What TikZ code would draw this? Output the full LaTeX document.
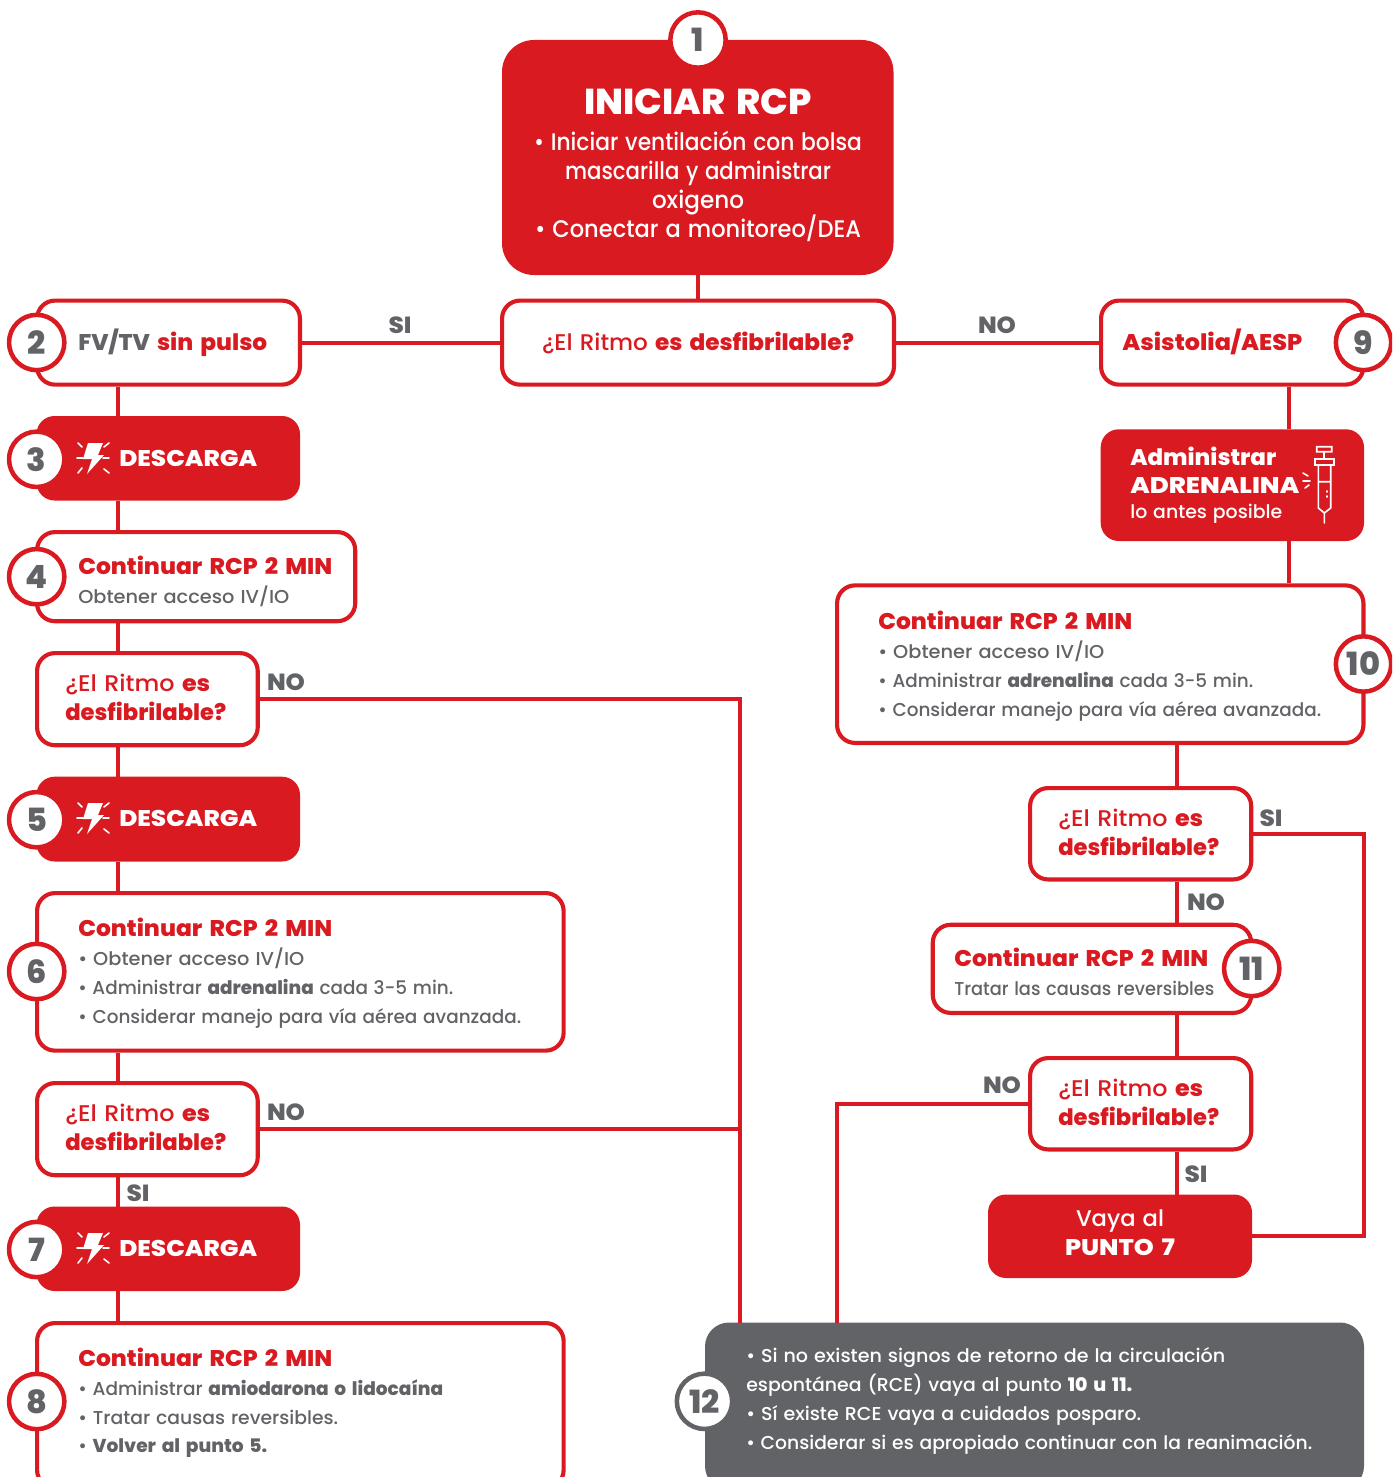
\documentclass[tikz,border=0pt]{standalone}
\usepackage{graphicx}
\usepackage{fontspec}
\setmainfont{Poppins Medium}[BoldFont={Poppins ExtraBold},WordSpace=1.2,BoldFeatures={WordSpace=1.6}]
\definecolor{rojo}{HTML}{DA1A21}
\definecolor{gris}{HTML}{626366}
\newcommand{\fs}[1]{\fontsize{#1}{#1}\selectfont}
\newcommand{\W}[2]{\resizebox{\dimexpr#1pt*3/4\relax}{\height}{#2}}
\tikzset{
 x=0.75pt,y=-0.75pt,
 line/.style={draw=rojo,line width=3.1pt,line join=miter},
 outbox/.style={draw=rojo,line width=3.1pt,fill=white,rounded corners=13.5pt,inner sep=0pt,anchor=north west},
 fillbox/.style={fill=rojo,rounded corners=13.5pt,inner sep=0pt,outer sep=0pt,anchor=north west},
 ring/.style={circle,draw=rojo,line width=3.4pt,fill=white,minimum size=41.5pt,inner sep=0pt,text=gris,font=\fs{24}\bfseries},
 gring/.style={ring,draw=gris},
 lab/.style={text=gris,font=\fs{17.5}\bfseries,inner sep=0pt},
 tl/.style={anchor=base west,inner sep=0pt},
 tc/.style={anchor=base,inner sep=0pt},
 rhead/.style={tl,text=rojo,font=\fs{17}\bfseries},
 gbody/.style={tl,text=gris,font=\fs{14}},
 qt/.style={tl,text=rojo,font=\fs{17}},
 whl/.style={tl,text=white,font=\fs{17}\bfseries},
 icon/.style={draw=white,line width=1.2pt,line cap=round},
}
% outlined box given by its outer edges in pixels: name, left, top, right, bottom
\newcommand{\obox}[5]{%
 \pgfmathsetmacro\myw{(#4-#2-4.13)*0.75}\pgfmathsetmacro\myh{(#5-#3-4.13)*0.75}%
 \node[outbox,minimum width=\myw pt,minimum height=\myh pt] (#1) at (#2,#3) {};}
\newcommand{\rbox}[6][]{%
 \pgfmathsetmacro\myw{(#5-#3)*0.75}\pgfmathsetmacro\myh{(#6-#4)*0.75}%
 \node[fillbox,minimum width=\myw pt,minimum height=\myh pt,#1] (#2) at (#3,#4) {};}
\newcommand{\bolt}[2]{%
 \begin{scope}[shift={(0,#1)}]
  \fill[white] (88,443)--(103,443)--(98,455)--(104,455)--(87,474)--(92,459)--(83,459)--cycle;
  \draw[icon] (78,443)--(82,447) (109,443)--(104,447) (77,458)--(83,458) (103,458)--(109,458) (78,473)--(82,468) (109,473)--(104,469);
 \end{scope}
 \node[whl] (#2) at (119,466+#1) {\W{138}{DESCARGA}};}
\begin{document}
\begin{tikzpicture}
\useasboundingbox (0,0) rectangle (1392,1477);
\clip (0,0) rectangle (1392,1477);
% boxes
\rbox[rounded corners=24pt]{b1}{502}{40}{893.5}{275}
\obox{q0}{500}{298.5}{896}{386.7}
\obox{b2}{35}{298.5}{302}{386.7}
\obox{b9}{1099}{298.5}{1365.5}{386.7}
\rbox{b3}{36.5}{416}{300}{500.5}
\obox{b4}{35}{530}{357.3}{623.3}
\obox{q1}{35}{651}{259.8}{747.3}
\rbox{b5}{36.5}{776.7}{300}{861.5}
\obox{b6}{35}{891}{565.7}{1052.7}
\obox{q2}{35}{1081}{259.8}{1177.3}
\rbox{b7}{36.5}{1206.5}{300}{1291}
\obox{b8}{35}{1321}{565.7}{1490}
\rbox{ba}{1100.7}{429.3}{1364}{541}
\obox{b10}{835}{583.3}{1365.5}{745}
\obox{q3}{1028}{786}{1253.3}{881.5}
\obox{b11}{930.7}{922.7}{1253.3}{1015}
\obox{q4}{1028}{1056}{1253.3}{1151.5}
\rbox{bv}{988}{1194.5}{1252}{1278}
\rbox[fill=gris,rounded corners=18pt]{b12}{705}{1322.5}{1364}{1490}
% trunk coordinates
\coordinate (tl) at (118,0);
\coordinate (tm) at (698,0);
\coordinate (ta) at (1289.3,0);
\coordinate (tb) at (1176.7,0);
\coordinate (jl) at (740.4,0);
\coordinate (jr) at (1364,0);
\coordinate (jn) at (836.7,0);
% connectors
\draw[line] (b1.south -| tm) -- (q0.north -| tm);
\draw[line] (q0.west) -- (b2.east);
\draw[line] (q0.east) -- (b9.west);
\draw[line] (b2.south -| tl) -- (b3.north -| tl);
\draw[line] (b3.south -| tl) -- (b4.north -| tl);
\draw[line] (b4.south -| tl) -- (q1.north -| tl);
\draw[line] (q1.south -| tl) -- (b5.north -| tl);
\draw[line] (b5.south -| tl) -- (b6.north -| tl);
\draw[line] (b6.south -| tl) -- (q2.north -| tl);
\draw[line] (q2.south -| tl) -- (b7.north -| tl);
\draw[line] (b7.south -| tl) -- (b8.north -| tl);
\draw[line] (q1.east) -| (b12.north -| jl);
\draw[line] (q2.east) -- (q2.east -| jl);
\draw[line] (b9.south -| ta) -- (ba.north -| ta);
\draw[line] (ba.south -| ta) -- (b10.north -| ta);
\draw[line] (b10.south -| tb) -- (q3.north -| tb);
\draw[line] (q3.south -| tb) -- (b11.north -| tb);
\draw[line] (b11.south -| tb) -- (q4.north -| tb);
\draw[line] (q4.south -| tb) -- (bv.north -| tb);
\draw[line] (q3.east) -- (q3.east -| jr) -- (bv.east -| jr) -- (bv.east);
\draw[line] (q4.west) -- (q4.west -| jn) -- (b12.north -| jn);
% rings
\node[ring] (c1) at (698,40) {1};
\node[ring] (c2) at (36.7,342.5) {2};
\node[ring] (c3) at (36.7,459.3) {3};
\node[ring] (c4) at (36.7,576.7) {4};
\node[ring] (c5) at (36.7,819.7) {5};
\node[ring] (c6) at (36.7,971.5) {6};
\node[ring] (c7) at (36.7,1249.5) {7};
\node[ring] (c8) at (36.7,1401.5) {8};
\node[ring] (c9) at (1363.5,342.5) {9};
\node[ring] (c10) at (1363.5,664) {10};
\node[ring] (c11) at (1251.7,968.5) {11};
\node[gring] (c12) at (704.5,1401.3) {12};
% labels
\node[lab] (l1) at (400,325) {\W{23}{SI}};
\node[lab] (l2) at (997,325) {\W{38}{NO}};
\node[lab] (l3) at (286,682) {\W{38}{NO}};
\node[lab] (l4) at (286,1112) {\W{38}{NO}};
\node[lab] (l5) at (138,1193) {\W{23}{SI}};
\node[lab] (l6) at (1271,818) {\W{23}{SI}};
\node[lab] (l7) at (1206,902) {\W{38}{NO}};
\node[lab] (l8) at (1002,1085) {\W{38}{NO}};
\node[lab] (l9) at (1196,1174) {\W{23}{SI}};
% texts box 1
\node[tc,text=white,font=\fs{27}\bfseries] (t1) at (698,114) {\W{228}{INICIAR RCP}};
\node[tc,text=white,font=\fs{18}] (t1a) at (698,150) {\W{328}{• Iniciar ventilación con bolsa}};
\node[tc,text=white,font=\fs{18}] (t1b) at (698,179) {\W{266}{mascarilla y administrar}};
\node[tc,text=white,font=\fs{18}] (t1c) at (698,208) {\W{92}{oxigeno}};
\node[tc,text=white,font=\fs{18}] (t1d) at (698,237) {\W{326}{• Conectar a monitoreo/DEA}};
% row 2
\node[tc,text=rojo,font=\fs{17}] (tq0) at (698,350) {\W{312}{¿El Ritmo \textbf{es desfibrilable?}}};
\node[tl,text=gris,font=\fs{17}\bfseries] (t2) at (78,350) {\W{189}{FV/TV \textcolor{rojo}{sin pulso}}};
\node[rhead] (t9) at (1122,350) {\W{180}{Asistolia/AESP}};
% descarga
\bolt{0}{t3}
\bolt{360}{t5}
\bolt{790}{t7}
% 4
\node[rhead] (t4) at (78,574) {\W{254}{Continuar RCP 2 MIN}};
\node[gbody] (t4a) at (78,603) {\W{211}{Obtener acceso IV/IO}};
% q1
\node[qt] (tq1a) at (65,691) {\W{145}{¿El Ritmo \textbf{es}}};
\node[qt] (tq1b) at (65,720) {\W{161}{\textbf{desfibrilable?}}};
% 6
\node[rhead] (t6) at (78,936) {\W{254}{Continuar RCP 2 MIN}};
\node[gbody] (t6a) at (78,965) {\W{226}{• Obtener acceso IV/IO}};
\node[gbody] (t6b) at (78,994) {\W{375}{• Administrar \textbf{adrenalina} cada 3-5 min.}};
\node[gbody] (t6c) at (78,1023) {\W{443}{• Considerar manejo para vía aérea avanzada.}};
% q2
\node[qt] (tq2a) at (65,1121) {\W{145}{¿El Ritmo \textbf{es}}};
\node[qt] (tq2b) at (65,1150) {\W{161}{\textbf{desfibrilable?}}};
% 8
\node[rhead] (t8) at (78,1366) {\W{254}{Continuar RCP 2 MIN}};
\node[gbody] (t8a) at (78,1395) {\W{365}{• Administrar \textbf{amiodarona o lidocaína}}};
\node[gbody] (t8b) at (78,1424) {\W{260}{• Tratar causas reversibles.}};
\node[gbody] (t8c) at (78,1452) {\W{189}{• \textbf{Volver al punto 5.}}};
% adrenalina
\node[whl] (ta1) at (1130,465) {\W{146}{Administrar}};
\node[whl] (ta2) at (1130,493) {\W{169}{ADRENALINA}};
\node[tl,text=white,font=\fs{14}] (ta3) at (1130,518) {\W{152}{lo antes posible}};
\draw[icon] (1316.7,446.7) rectangle (1331.7,451.7) (1324,451.7)--(1324,459)
 (1315,459) rectangle (1334,465)
 (1318.3,465)--(1318.3,508)--(1324.3,513)--(1330.7,508)--(1330.7,465)
 (1318.3,481.7)--(1330.7,481.7) (1324.3,513)--(1324.3,523)
 (1327,491)--(1327,492) (1327,496)--(1327,497)
 (1303,473)--(1308,476) (1303,481)--(1310,481) (1305,488)--(1309,485);
% 10
\node[rhead] (t10) at (878,629) {\W{254}{Continuar RCP 2 MIN}};
\node[gbody] (t10a) at (878,658) {\W{226}{• Obtener acceso IV/IO}};
\node[gbody] (t10b) at (878,687) {\W{375}{• Administrar \textbf{adrenalina} cada 3-5 min.}};
\node[gbody] (t10c) at (878,716) {\W{443}{• Considerar manejo para vía aérea avanzada.}};
% q3
\node[qt] (tq3a) at (1058,826) {\W{145}{¿El Ritmo \textbf{es}}};
\node[qt] (tq3b) at (1058,855) {\W{161}{\textbf{desfibrilable?}}};
% 11
\node[rhead] (t11) at (954,966) {\W{254}{Continuar RCP 2 MIN}};
\node[gbody] (t11a) at (954,995) {\W{260}{Tratar las causas reversibles}};
% q4
\node[qt] (tq4a) at (1058,1096) {\W{145}{¿El Ritmo \textbf{es}}};
\node[qt] (tq4b) at (1058,1125) {\W{161}{\textbf{desfibrilable?}}};
% vaya
\node[tc,text=white,font=\fs{17}] (tv1) at (1120,1226) {\W{88}{Vaya al}};
\node[tc,text=white,font=\fs{17}\bfseries] (tv2) at (1120,1255) {\W{110}{PUNTO 7}};
% 12
\node[tl,text=white,font=\fs{14}] (t12a) at (746,1362) {\W{479}{• Si no existen signos de retorno de la circulación}};
\node[tl,text=white,font=\fs{14}] (t12b) at (746,1391) {\W{386}{espontánea (RCE) vaya al punto \textbf{10 u 11.}}};
\node[tl,text=white,font=\fs{14}] (t12c) at (746,1420) {\W{395}{• Sí existe RCE vaya a cuidados posparo.}};
\node[tl,text=white,font=\fs{14}] (t12d) at (746,1449) {\W{566}{• Considerar si es apropiado continuar con la reanimación.}};
\end{tikzpicture}
\end{document}
